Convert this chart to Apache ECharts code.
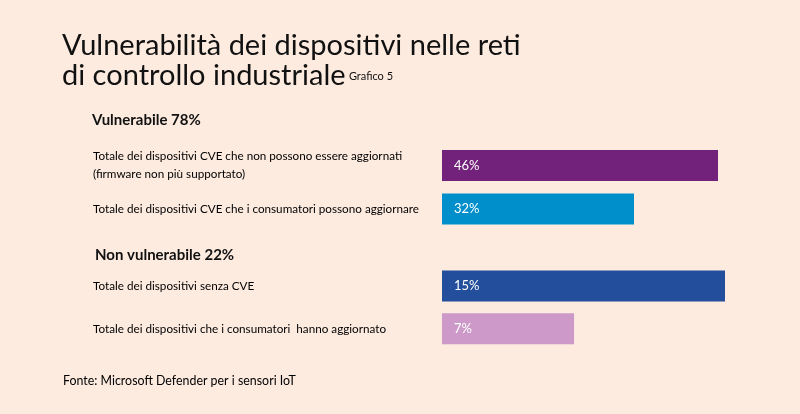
<!DOCTYPE html>
<html><head><meta charset="utf-8">
<script src="https://cdn.jsdelivr.net/npm/echarts@6/dist/echarts.min.js"></script>
<style>html,body{margin:0;padding:0;background:#FDEBE0}#c{width:800px;height:414px}</style>
</head><body><div id="c"></div>
<script>
const titleLines = ['Vulnerabilità dei dispositivi nelle reti', 'di controllo industriale'];
const chartNote = 'Grafico 5';
const groupNames = ['Vulnerabile 78%', 'Non vulnerabile 22%'];
const vulnCategories = ['Totale dei dispositivi CVE che non possono essere aggiornati\n(firmware non più supportato)', 'Totale dei dispositivi CVE che i consumatori possono aggiornare'];
const vulnValues = [46, 32];
const vulnColors = ['#72227A', '#008FCB'];
const safeCategories = ['Totale dei dispositivi senza CVE', 'Totale dei dispositivi che i consumatori  hanno aggiornato'];
const safeValues = [15, 7];
const safeColors = ['#234E9B', '#CC99C8'];
const sourceText = 'Fonte: Microsoft Defender per i sensori IoT';

const FF = 'Lato, "Open Sans", sans-serif';
const chart = echarts.init(document.getElementById('c'), null, {renderer: 'canvas'});

function yAx(gi, cats) {
  return {
    type: 'category', gridIndex: gi, data: cats, inverse: true,
    axisLine: {show: false}, axisTick: {show: false}, splitLine: {show: false},
    axisLabel: {align: 'left', margin: 349, color: '#000', fontSize: 11.7, lineHeight: 18, fontFamily: FF}
  };
}
function barSeries(gi, vals, cols) {
  return {
    type: 'bar', xAxisIndex: gi, yAxisIndex: gi, barWidth: 31,
    data: vals.map((v, i) => ({value: v, itemStyle: {color: cols[i]}})),
    label: {show: true, position: 'insideLeft', distance: 12, color: '#fff', fontSize: 13, fontFamily: FF, formatter: '{c}%'},
    silent: true, animation: false
  };
}

chart.setOption({
  backgroundColor: '#FDEBE0',
  animation: false,
  grid: [
    {left: 442, top: 143.75, width: 300, height: 87},
    {left: 442, top: 264.7, width: 283, height: 85.4}
  ],
  xAxis: [
    {type: 'value', gridIndex: 0, min: 0, max: 50, show: false},
    {type: 'value', gridIndex: 1, min: 0, max: 15, show: false}
  ],
  yAxis: [yAx(0, vulnCategories), yAx(1, safeCategories)],
  series: [barSeries(0, vulnValues, vulnColors), barSeries(1, safeValues, safeColors)],
  graphic: [
    {type: 'text', x: 62, y: 46, style: {text: titleLines[0], fill: '#111', font: '400 29px ' + FF, verticalAlign: 'middle'}},
    {type: 'text', x: 62, y: 76, style: {
      text: '{t|' + titleLines[1] + '} {g|' + chartNote + '}', fill: '#111', verticalAlign: 'middle',
      rich: {t: {fontSize: 29, fontWeight: 400, fontFamily: FF, fill: '#111'}, g: {fontSize: 11, fontFamily: FF, fill: '#111'}}
    }},
    {type: 'text', x: 92, y: 120, style: {text: groupNames[0], fill: '#111', font: 'bold 15px ' + FF, verticalAlign: 'middle'}},
    {type: 'text', x: 95, y: 255, style: {text: groupNames[1], fill: '#111', font: 'bold 15px ' + FF, verticalAlign: 'middle'}},
    {type: 'text', x: 63, y: 381, style: {text: sourceText, fill: '#000', font: '12.4px ' + FF, verticalAlign: 'middle'}}
  ]
});
</script></body></html>
